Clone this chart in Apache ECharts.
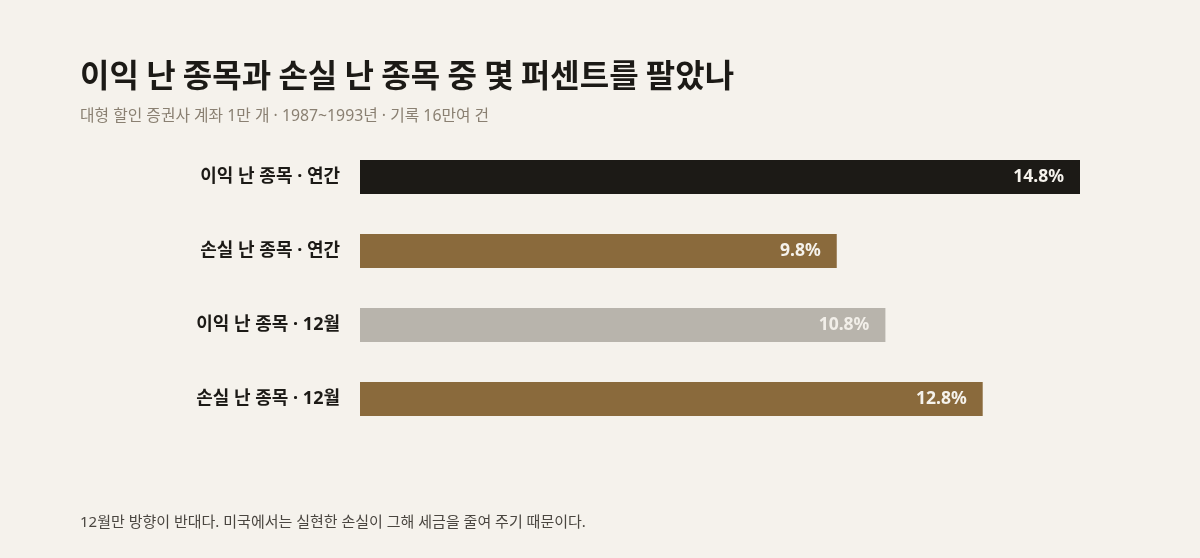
<!DOCTYPE html>
<html>
<head>
<meta charset="utf-8">
<script src="https://cdn.jsdelivr.net/npm/echarts@6/dist/echarts.min.js"></script>
<style>
html,body{margin:0;padding:0;background:#f5f2ec;}
#main{width:1200px;height:558px;}
</style>
</head>
<body>
<div id="main"></div>
<script>
// 데이터
var categories = ['이익 난 종목 · 연간', '손실 난 종목 · 연간', '이익 난 종목 · 12월', '손실 난 종목 · 12월'];
var values = [14.8, 9.8, 10.8, 12.8];
var barColors = ['#1c1a16', '#8a6a3c', '#b8b4ac', '#8a6a3c'];
var labelColors = ['#f5f2ec', '#f5f2ec', '#f2efe9', '#f5f2ec'];

var font = '"Noto Sans", "Noto Sans CJK KR", sans-serif';

var option = {
	backgroundColor: '#f5f2ec',
	animation: false,
	title: [
		{
			text: '이익 난 종목과 손실 난 종목 중 몇 퍼센트를 팔았나',
			left: 75, top: 54, padding: 5,
			textStyle: {fontFamily: '"Noto Sans CJK KR", sans-serif', fontSize: 32, fontWeight: 'bold', color: '#1c1a16'}
		},
		{
			text: '대형 할인 증권사 계좌 1만 개 · 1987~1993년 · 기록 16만여 건',
			left: 75, top: 104,
			textStyle: {fontFamily: font, fontSize: 15.8, fontWeight: 'normal', color: '#8a8072'}
		},
		{
			text: '12월만 방향이 반대다. 미국에서는 실현한 손실이 그해 세금을 줄여 주기 때문이다.',
			left: 75, top: 510,
			textStyle: {fontFamily: font, fontSize: 15, fontWeight: 'normal', color: '#4a4640'}
		}
	],
	grid: {left: 360, right: 120, top: 140, bottom: 122},
	xAxis: {
		type: 'value', min: 0, max: 14.8,
		show: false
	},
	yAxis: {
		type: 'category',
		inverse: true,
		data: categories,
		axisLine: {show: false},
		axisTick: {show: false},
		axisLabel: {margin: 20, padding: [4, 0, 0, 0], fontFamily: font, fontSize: 18, fontWeight: 'bold', color: '#1c1a16'}
	},
	series: [
		{
			type: 'bar',
			barWidth: 34,
			data: values.map(function (v, i) {
				return {
					value: v,
					itemStyle: {color: barColors[i]},
					label: {color: labelColors[i]}
				};
			}),
			label: {
				show: true,
				position: 'insideRight',
				distance: 16,
				padding: [4, 0, 0, 0],
				fontFamily: font, fontSize: 17.5, fontWeight: 'bold',
				formatter: function (p) { return p.value.toFixed(1) + '%'; }
			}
		}
	]
};

var myChart = echarts.init(document.getElementById('main'));
myChart.setOption(option);
</script>
</body>
</html>
